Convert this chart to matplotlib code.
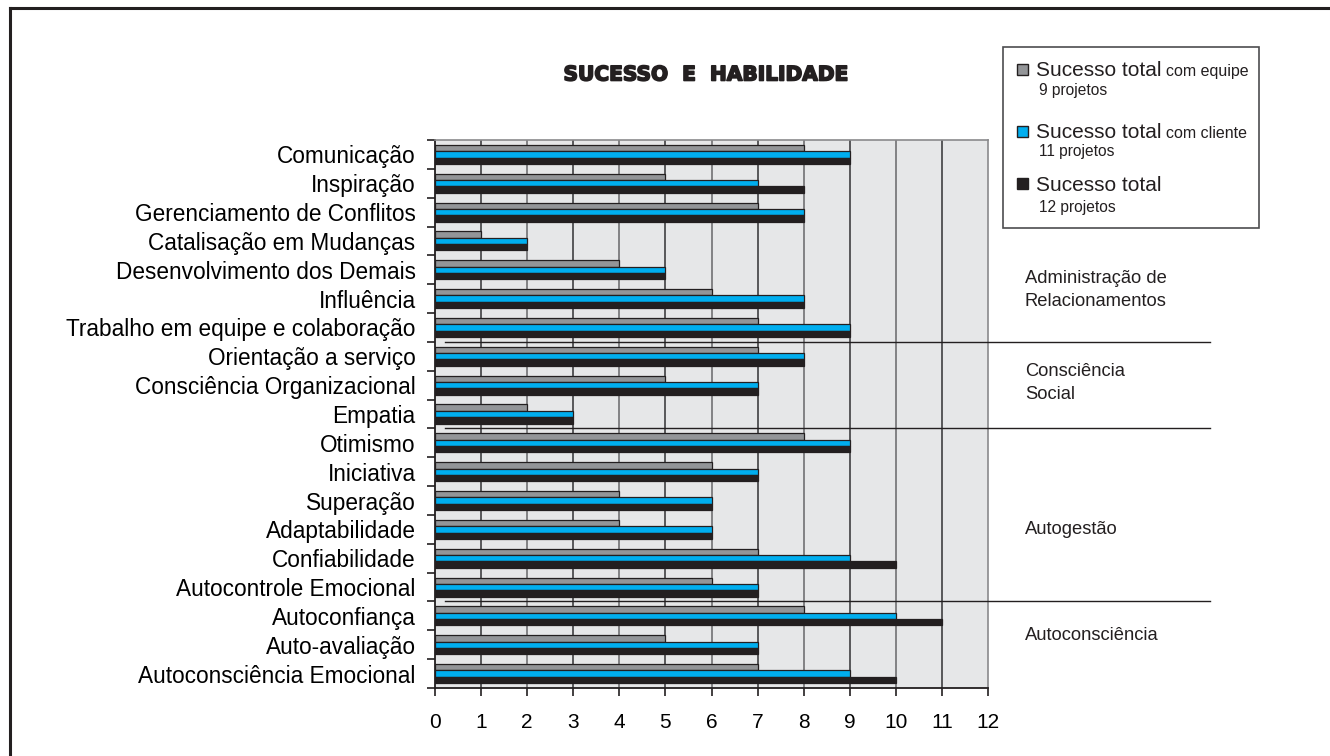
import matplotlib
matplotlib.use("Agg")
import matplotlib.pyplot as plt
import matplotlib.transforms as mtransforms
import matplotlib.patheffects as pe
from matplotlib.lines import Line2D
from matplotlib.patches import Rectangle
import numpy as np

plt.rcParams['font.family'] = ['Liberation Sans', 'DejaVu Sans']

# dados (de cima para baixo)
habilidades = [
    "Comunicação", "Inspiração", "Gerenciamento de Conflitos",
    "Catalisação em Mudanças", "Desenvolvimento dos Demais", "Influência",
    "Trabalho em equipe e colaboração", "Orientação a serviço",
    "Consciência Organizacional", "Empatia", "Otimismo", "Iniciativa",
    "Superação", "Adaptabilidade", "Confiabilidade",
    "Autocontrole Emocional", "Autoconfiança", "Auto-avaliação",
    "Autoconsciência Emocional",
]
equipe = [8, 5, 7, 1, 4, 6, 7, 7, 5, 2, 8, 6, 4, 4, 7, 6, 8, 5, 7]
cliente = [9, 7, 8, 2, 5, 8, 9, 8, 7, 3, 9, 7, 6, 6, 9, 7, 10, 7, 9]
total = [9, 8, 8, 2, 5, 8, 9, 8, 7, 3, 9, 7, 6, 6, 10, 7, 11, 7, 10]

series_nomes = ["Sucesso total", "Sucesso total", "Sucesso total"]
series_extra = ["com equipe", "com cliente", ""]
series_projetos = ["9 projetos", "11 projetos", "12 projetos"]

grupos = ["Administração de\nRelacionamentos", "Consciência\nSocial",
          "Autogestão", "Autoconsciência"]
grupo_fim = [7, 10, 16]  # limites entre grupos (índice da categoria)

cores = ['#939598', '#00aeef', '#231f20']
borda = '#231f20'
fundo = '#e6e7e8'

W, H = 1330, 756
fig = plt.figure(figsize=(13.3, 7.56), dpi=100)
ax = fig.add_axes([435/W, 1-688/H, 553/W, 548/H])
ax.set_facecolor(fundo)

n = len(habilidades)
y = np.arange(n) + 0.5
h = 0.22
for k, vals in enumerate([equipe, cliente, total]):
    ax.barh(y + (k-1)*h, vals, height=h, color=cores[k], edgecolor=borda,
            linewidth=0.9, zorder=3)

ax.set_xlim(0, 12)
ax.set_ylim(n, 0)

# grade vertical
for v in range(1, 12):
    ax.axvline(v, color='#4d4d4f' if v % 2 else '#7a7a7c', lw=1.3, zorder=1)

ax.set_xticks(range(0, 13))
ax.tick_params(axis='x', length=6, width=1.2, pad=12, labelsize=15, color='#231f20')

ax.set_yticks(np.arange(n+1))
ax.set_yticklabels([])
ax.tick_params(axis='y', which='major', length=6, width=1.2, color='#231f20')
ax.set_yticks(y, minor=True)
ax.set_yticklabels(habilidades, minor=True)
ax.tick_params(axis='y', which='minor', length=0, pad=14, labelsize=16.3)

for s in ['left', 'bottom']:
    ax.spines[s].set_color('#231f20')
    ax.spines[s].set_linewidth(1.3)
for s in ['top', 'right']:
    ax.spines[s].set_color('#8a8a8c')
    ax.spines[s].set_linewidth(1.2)

# linhas separadoras dos grupos
trans = mtransforms.blended_transform_factory(fig.transFigure, ax.transData)
for g in grupo_fim:
    ax.plot([445/W, 1210/W], [g, g], color='#231f20', lw=1.0,
            transform=trans, clip_on=False, zorder=4)

# rótulos dos grupos
grupo_y = [290, 383, 529, 636]
for nome, gy in zip(grupos, grupo_y):
    fig.text(1025/W, 1-gy/H, nome, fontsize=13.2, va='center', ha='left',
             color='#231f20', linespacing=1.45)

# título
fig.text(706/W, 1-75/H, "SUCESSO  E  HABILIDADE", fontsize=14.5,
         fontweight='heavy', family='DejaVu Sans', ha='center', va='center',
         color='#231f20',
         path_effects=[pe.withStroke(linewidth=1.2, foreground='#231f20')])

# legenda
fig.patches.append(Rectangle((1003/W, 1-228/H), 256/W, 181/H,
                             transform=fig.transFigure, facecolor='white',
                             edgecolor='#4d4d4f', lw=1.2))
quad_y = [70, 132, 184]
base_y = [76, 138, 191]
proj_y = [95, 156, 212]
titulos = []
for k in range(3):
    fig.patches.append(Rectangle((1017/W, 1-(quad_y[k]+5)/H), 11/W, 11/H,
                                 transform=fig.transFigure, facecolor=cores[k],
                                 edgecolor=borda, lw=1.0))
    t1 = fig.text(1036/W, 1-base_y[k]/H, series_nomes[k], fontsize=15,
                  va='baseline', ha='left', color='#231f20')
    titulos.append(t1)
    fig.text(1039/W, 1-proj_y[k]/H, series_projetos[k],
             fontsize=11.2, va='baseline', ha='left', color='#231f20')

fig.canvas.draw()
r = fig.canvas.get_renderer()
for t1, extra in zip(titulos, series_extra):
    if extra:
        bb = t1.get_window_extent(r)
        fig.text((bb.x1 + 4)/W, t1.get_position()[1], extra, fontsize=11.5,
                 va='baseline', ha='left', color='#231f20')

# moldura
fig.lines.append(Line2D([10/W, 10/W], [0, 1-8/H], transform=fig.transFigure,
                        color='#231f20', lw=2.2))
fig.lines.append(Line2D([10/W, 1], [1-8/H, 1-8/H], transform=fig.transFigure,
                        color='#231f20', lw=2.2))

fig.savefig("out.png", dpi=100, facecolor='white')
